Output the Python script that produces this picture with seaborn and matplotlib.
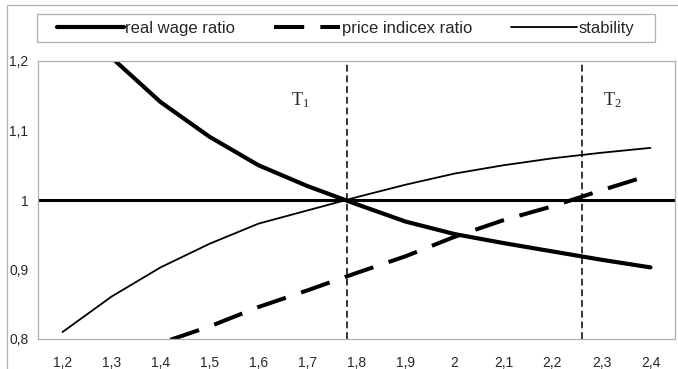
import matplotlib
matplotlib.use('Agg')

import matplotlib.pyplot as plt
import matplotlib.patches as mpatches
import seaborn as sns

# datos
x = [1.2, 1.3, 1.4, 1.5, 1.6, 1.7, 1.8, 1.9, 2.0, 2.1, 2.2, 2.3, 2.4]
real_wage = [1.285, 1.205, 1.141, 1.091, 1.050, 1.020, 0.994, 0.969, 0.951, 0.938, 0.926, 0.914, 0.903]
price_index = [0.745, 0.770, 0.794, 0.818, 0.846, 0.870, 0.895, 0.919, 0.947, 0.971, 0.991, 1.014, 1.036]
stability = [0.810, 0.861, 0.903, 0.937, 0.966, 0.985, 1.004, 1.022, 1.038, 1.050, 1.060, 1.068, 1.075]
t_lines = [1.78, 2.26]
t_labels = [r'$\mathrm{T}_{1}$', r'$\mathrm{T}_{2}$']
t_label_x = [1.686, 2.322]
x_labels = ['1,2', '1,3', '1,4', '1,5', '1,6', '1,7', '1,8', '1,9', '2', '2,1', '2,2', '2,3', '2,4']
y_ticks = [0.8, 0.9, 1.0, 1.1, 1.2]
y_labels = ['0,8', '0,9', '1', '1,1', '1,2']

sns.set_style('white')
plt.rcParams['font.family'] = ['Liberation Sans', 'DejaVu Sans']
plt.rcParams['mathtext.fontset'] = 'custom'
plt.rcParams['mathtext.rm'] = 'Liberation Serif'
plt.rcParams['mathtext.it'] = 'Liberation Serif'

fig = plt.figure(figsize=(6.78, 3.69), dpi=100)
ax = fig.add_axes([38 / 678, 1 - 339 / 369, (675 - 38) / 678, (339 - 61) / 369])

# lineas
sns.lineplot(x=x, y=real_wage, ax=ax, color='black', lw=3.0, label='real wage ratio')
sns.lineplot(x=x, y=price_index, ax=ax, color='black', lw=2.9,
             linestyle=(0, (7.5, 4)), label='price indicex ratio')
sns.lineplot(x=x, y=stability, ax=ax, color='black', lw=1.3, label='stability')

ax.axhline(1.0, color='black', lw=2.2, zorder=1)
for xv, tx, t in zip(t_lines, t_label_x, t_labels):
    ax.axvline(xv, color='black', lw=1.1, linestyle=(0, (4.5, 2.5)), zorder=1)
    ax.text(tx, 1.144, t, fontsize=13, ha='center', va='center')

ax.set_xlim(1.15, 2.45)
ax.set_ylim(0.8, 1.2)
ax.set_xticks(x)
ax.set_xticklabels(x_labels, fontsize=10)
ax.set_yticks(y_ticks)
ax.set_yticklabels(y_labels, fontsize=10)
ax.tick_params(axis='x', length=0, pad=12)
ax.tick_params(axis='y', length=3, width=0.8, color='#999999', pad=4)
for s in ax.spines.values():
    s.set_color('#b0b0b0')
    s.set_linewidth(0.9)
ax.set_xlabel('')
ax.set_ylabel('')

# leyenda arriba
handles, labels = ax.get_legend_handles_labels()
if ax.get_legend() is not None:
    ax.get_legend().remove()
fig.legend(handles, labels, ncol=3, loc='center left',
           bbox_to_anchor=(57 / 678, 1 - 28 / 369), fontsize=12,
           frameon=False, handlelength=4.0, borderpad=0, borderaxespad=0,
           handletextpad=0.1, columnspacing=2.3)
fig.add_artist(mpatches.Rectangle((37 / 678, 1 - 42 / 369), 618 / 678, 28 / 369,
                                  transform=fig.transFigure, fill=False,
                                  edgecolor='#b0b0b0', lw=0.9))

# borde exterior del grafico
fig.add_artist(mpatches.Rectangle((7 / 678, -0.1), 1.2, 1.1 - 5 / 369,
                                  transform=fig.transFigure, fill=False,
                                  edgecolor='#b0b0b0', lw=0.9))

fig.savefig('out.png', dpi=100)
